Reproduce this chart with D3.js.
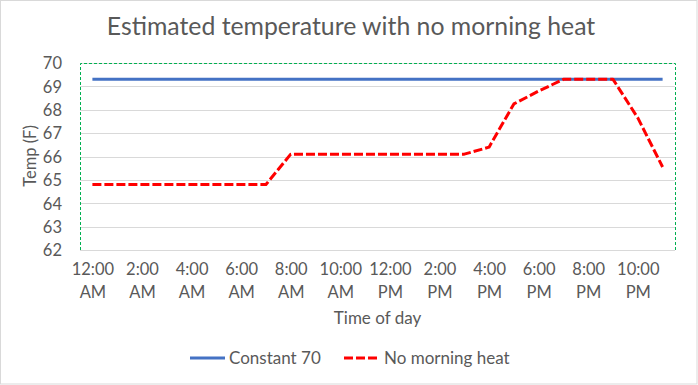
<!DOCTYPE html>
<html>
<head>
<meta charset="utf-8">
<script src="https://cdn.jsdelivr.net/npm/d3@7"></script>
<style>
  body { margin: 0; background: #fff; }
  svg text { font-family: Lato, "Open Sans", sans-serif; fill: #595959; }
  .axis path, .axis line { display: none; }
</style>
</head>
<body>
<svg id="chart" width="698" height="385"></svg>
<script>
// hourly categories, labels shown every other hour
const hours = [
  '12:00 AM', '1:00 AM', '2:00 AM', '3:00 AM', '4:00 AM', '5:00 AM',
  '6:00 AM', '7:00 AM', '8:00 AM', '9:00 AM', '10:00 AM', '11:00 AM',
  '12:00 PM', '1:00 PM', '2:00 PM', '3:00 PM', '4:00 PM', '5:00 PM',
  '6:00 PM', '7:00 PM', '8:00 PM', '9:00 PM', '10:00 PM', '11:00 PM',
];
const constant70 = [
  69.3, 69.3, 69.3, 69.3, 69.3, 69.3, 69.3, 69.3, 69.3, 69.3, 69.3, 69.3,
  69.3, 69.3, 69.3, 69.3, 69.3, 69.3, 69.3, 69.3, 69.3, 69.3, 69.3, 69.3,
];
const noMorningHeat = [
  64.8, 64.8, 64.8, 64.8, 64.8, 64.8, 64.8, 64.8, 66.1, 66.1, 66.1, 66.1,
  66.1, 66.1, 66.1, 66.1, 66.4, 68.25, 68.8, 69.3, 69.3, 69.3, 67.65, 65.55,
];
const yTicks = [62, 63, 64, 65, 66, 67, 68, 69, 70];

const series = [
  { name: 'Constant 70', values: constant70, color: '#4472C4', dash: null },
  { name: 'No morning heat', values: noMorningHeat, color: '#FF0000', dash: '9,3' },
];

const svg = d3.select('#chart');
const width = 698;
const plot = { left: 80, right: 675, top: 63, bottom: 250 };

// outer chart border
svg.append('rect')
  .attr('x', 0.5).attr('y', 0.5)
  .attr('width', width - 1.5).attr('height', 383.5)
  .attr('fill', '#fff')
  .attr('stroke', '#d9d9d9');

const x = d3.scalePoint()
  .domain(hours)
  .range([plot.left, plot.right])
  .padding(0.5);

const y = d3.scaleLinear()
  .domain([62, 70])
  .range([plot.bottom, plot.top]);

// gridlines
svg.append('g')
  .selectAll('line')
  .data(yTicks)
  .join('line')
  .attr('x1', plot.left).attr('x2', plot.right)
  .attr('y1', d => Math.round(y(d)) + 0.5)
  .attr('y2', d => Math.round(y(d)) + 0.5)
  .attr('stroke', '#d9d9d9')
  .attr('stroke-width', 1);

// plot area border (green dashed)
svg.append('path')
  .attr('d', `M${plot.left + 0.5},${plot.bottom}V${plot.top + 0.5}H${plot.right + 0.5}V${plot.bottom}`)
  .attr('fill', 'none')
  .attr('stroke', '#00B050')
  .attr('stroke-dasharray', '3,2');

// y axis
const yAxis = d3.axisLeft(y).tickValues(yTicks).tickSize(0).tickPadding(0);
svg.append('g')
  .attr('class', 'y axis')
  .attr('transform', 'translate(62,0)')
  .call(yAxis)
  .selectAll('text')
  .style('font-size', '16.5px')
  .attr('x', 0)
  .attr('dy', '0.35em');

// x axis: two-line labels every other hour
const xAxis = d3.axisBottom(x)
  .tickValues(hours.filter((d, i) => i % 2 === 0))
  .tickSize(0)
  .tickFormat('');
const xg = svg.append('g')
  .attr('class', 'x axis')
  .attr('transform', `translate(0,${plot.bottom})`)
  .call(xAxis);
xg.selectAll('.tick').each(function (d) {
  const parts = d.split(' ');
  const t = d3.select(this).append('text')
    .attr('text-anchor', 'middle')
    .style('font-size', '16.5px');
  t.append('tspan').attr('x', 0).attr('y', 25).text(parts[0]);
  t.append('tspan').attr('x', 0).attr('y', 48).text(parts[1]);
});

// lines
const line = d3.line()
  .x((d, i) => x(hours[i]))
  .y(d => y(d));

series.forEach((s) => {
  svg.append('path')
    .datum(s.values)
    .attr('fill', 'none')
    .attr('stroke', s.color)
    .attr('stroke-width', 3)
    .attr('stroke-linejoin', 'round')
    .attr('stroke-dasharray', s.dash)
    .attr('d', line);
});

// titles
svg.append('text')
  .attr('x', 351).attr('y', 35)
  .attr('text-anchor', 'middle')
  .style('font-size', '24.8px')
  .text('Estimated temperature with no morning heat');

svg.append('text')
  .attr('x', (plot.left + plot.right) / 2).attr('y', 324)
  .attr('text-anchor', 'middle')
  .style('font-size', '17px')
  .text('Time of day');

svg.append('text')
  .attr('transform', 'translate(36,156) rotate(-90)')
  .attr('text-anchor', 'middle')
  .style('font-size', '16.5px')
  .text('Temp (F)');

// legend
const legendPos = [190, 344];
const legend = svg.append('g');
series.forEach((s, i) => {
  const g = legend.append('g').attr('transform', `translate(${legendPos[i]},358)`);
  g.append('line')
    .attr('x1', 0).attr('x2', 35)
    .attr('stroke', s.color)
    .attr('stroke-width', 3)
    .attr('stroke-dasharray', s.dash);
  g.append('text')
    .attr('x', i === 0 ? 39 : 40).attr('y', 6)
    .style('font-size', '17px')
    .text(s.name);
});
</script>
</body>
</html>
